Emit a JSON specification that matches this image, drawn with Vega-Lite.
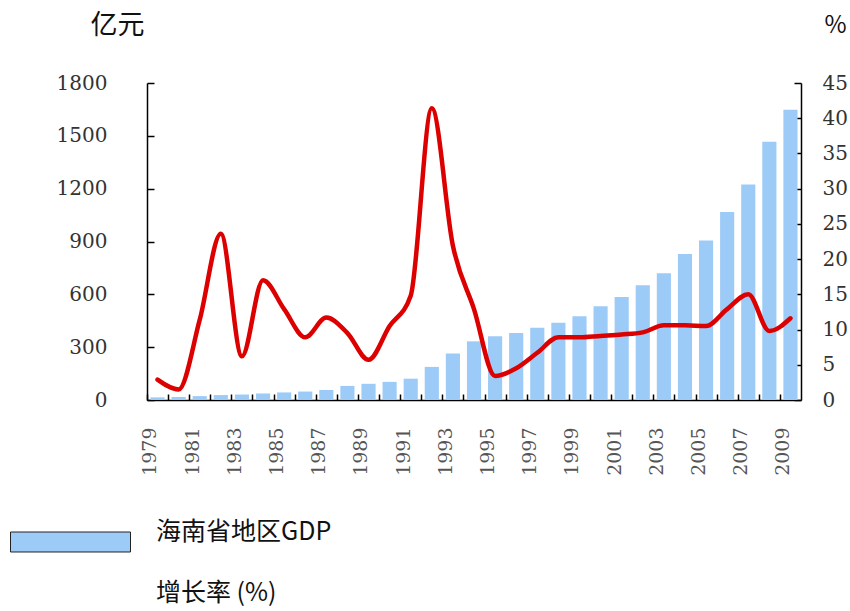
{
  "$schema": "https://vega.github.io/schema/vega-lite/v6.json",
  "width": 654,
  "height": 317,
  "autosize": {"type": "none"},
  "padding": {"left": 147, "top": 83, "right": 49, "bottom": 211},
  "background": "white",
  "config": {"view": {"stroke": null}},
  "data": {"values": [
    {"year": "1979", "gdp": 15, "growth": 2.9},
    {"year": "1980", "gdp": 17, "growth": 1.5},
    {"year": "1981", "gdp": 22, "growth": 11.4},
    {"year": "1982", "gdp": 28, "growth": 23.6},
    {"year": "1983", "gdp": 31, "growth": 6.2},
    {"year": "1984", "gdp": 37, "growth": 17.0},
    {"year": "1985", "gdp": 43, "growth": 12.9},
    {"year": "1986", "gdp": 48, "growth": 8.9},
    {"year": "1987", "gdp": 57, "growth": 11.7},
    {"year": "1988", "gdp": 80, "growth": 9.5},
    {"year": "1989", "gdp": 92, "growth": 5.7},
    {"year": "1990", "gdp": 103, "growth": 10.5},
    {"year": "1991", "gdp": 121, "growth": 14.8},
    {"year": "1992", "gdp": 188, "growth": 41.4},
    {"year": "1993", "gdp": 264, "growth": 21.9},
    {"year": "1994", "gdp": 333, "growth": 12.9},
    {"year": "1995", "gdp": 362, "growth": 3.4},
    {"year": "1996", "gdp": 381, "growth": 4.5},
    {"year": "1997", "gdp": 410, "growth": 6.7},
    {"year": "1998", "gdp": 438, "growth": 8.9},
    {"year": "1999", "gdp": 476, "growth": 8.9},
    {"year": "2000", "gdp": 533, "growth": 9.1},
    {"year": "2001", "gdp": 585, "growth": 9.3},
    {"year": "2002", "gdp": 651, "growth": 9.6},
    {"year": "2003", "gdp": 720, "growth": 10.6},
    {"year": "2004", "gdp": 829, "growth": 10.6},
    {"year": "2005", "gdp": 905, "growth": 10.5},
    {"year": "2006", "gdp": 1067, "growth": 12.9},
    {"year": "2007", "gdp": 1223, "growth": 15.0},
    {"year": "2008", "gdp": 1467, "growth": 9.8},
    {"year": "2009", "gdp": 1648, "growth": 11.6}
  ]},
  "encoding": {
    "x": {
      "field": "year", "type": "ordinal", "title": null,
      "scale": {"paddingInner": 0.33, "paddingOuter": 0.165},
      "axis": {
        "labelAngle": -90,
        "labelExpr": "toNumber(datum.value) % 2 == 1 ? datum.label : ''",
        "labelFont": "DejaVu Serif", "labelFontSize": 19, "labelColor": "#555",
        "labelPadding": 33, "labelOffset": 3,
        "tickOffset": -10.55, "tickSize": -6, "tickColor": "#000", "tickWidth": 1.5,
        "domainColor": "#000", "domainWidth": 1.5
      }
    }
  },
  "layer": [
    {
      "mark": {"type": "bar"},
      "encoding": {
        "y": {
          "field": "gdp", "type": "quantitative",
          "scale": {"domain": [0, 1800]},
          "axis": {
            "orient": "left", "values": [0, 300, 600, 900, 1200, 1500, 1800], "format": "d",
            "grid": false, "title": "亿元", "titleAngle": 0, "titleX": -30, "titleY": -58,
            "titleAlign": "center", "titleBaseline": "middle",
            "titleFont": "Noto Sans CJK SC", "titleFontSize": 27, "titleFontWeight": "normal", "titleColor": "#111",
            "labelFont": "DejaVu Serif", "labelFontSize": 20, "labelColor": "#333",
            "labelPadding": 47, "tickSize": -7, "tickColor": "#000", "tickWidth": 1.5,
            "domainColor": "#000", "domainWidth": 1.5
          }
        },
        "color": {
          "datum": "海南省地区GDP",
          "scale": {"domain": ["海南省地区GDP", "增长率 (%)"], "range": ["#9ccbf7", "#ffffff"]},
          "legend": {
            "title": null, "orient": "none", "legendX": -137, "legendY": 427,
            "direction": "vertical", "padding": 0,
            "symbolType": "M-1,0L1,0L1,0.3333L-1,0.3333Z", "symbolSize": 14400,
            "symbolStrokeColor": "#222", "symbolStrokeWidth": 1, "symbolFillColor": "#99ccff",
            "clipHeight": 44, "rowPadding": 17, "labelOffset": 25,
            "labelFont": "Noto Sans CJK SC", "labelFontSize": 25, "labelColor": "#111",
            "labelLimit": 400,
            "encode": {"symbols": {"update": {"opacity": {"signal": "datum.value === '海南省地区GDP' ? 1 : 0"}}}}
          }
        }
      }
    },
    {
      "mark": {"type": "line", "color": "#dc0000", "strokeWidth": 4.5, "interpolate": "monotone", "strokeCap": "round", "strokeJoin": "round"},
      "encoding": {
        "y": {
          "field": "growth", "type": "quantitative",
          "scale": {"domain": [0, 45]},
          "axis": {
            "orient": "right", "values": [0, 5, 10, 15, 20, 25, 30, 35, 40, 45],
            "grid": false, "title": "%", "titleAngle": 0, "titleX": 34, "titleY": -58,
            "titleAlign": "center", "titleBaseline": "middle",
            "titleFont": "Noto Sans CJK SC", "titleFontSize": 24, "titleFontWeight": "normal", "titleColor": "#111",
            "labelFont": "DejaVu Serif", "labelFontSize": 20, "labelColor": "#333",
            "labelPadding": 28, "tickSize": -7, "tickColor": "#000", "tickWidth": 1.5,
            "domainColor": "#000", "domainWidth": 1.5
          }
        }
      }
    }
  ],
  "resolve": {"scale": {"y": "independent"}}
}
